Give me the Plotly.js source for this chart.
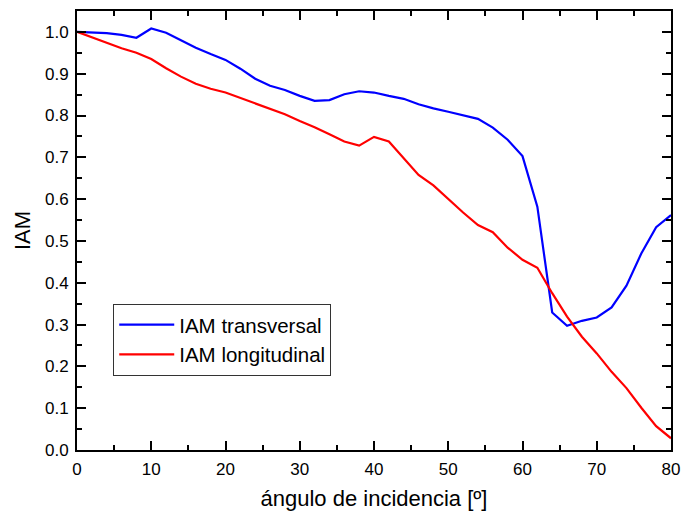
<!DOCTYPE html>
<html><head><meta charset="utf-8">
<script src="https://cdn.plot.ly/plotly-3.0.1.min.js"></script>
<style>html,body{margin:0;padding:0;background:#fff}</style>
</head><body><div id="chart" style="width:684px;height:514px"></div>
<script>
const angles = [0,2,4,6,8,10,12,14,16,18,20,22,24,26,28,30,32,34,36,38,40,42,44,46,48,50,52,54,56,58,60,62,64,66,68,70,72,74,76,78,80];
const iamTransversal = [1.0,0.999,0.997,0.993,0.986,1.008,0.998,0.980,0.962,0.947,0.933,0.912,0.888,0.871,0.861,0.847,0.835,0.837,0.851,0.858,0.855,0.847,0.840,0.827,0.817,0.809,0.801,0.792,0.771,0.742,0.703,0.582,0.329,0.297,0.309,0.317,0.341,0.393,0.470,0.533,0.562];
const iamLongitudinal = [1.0,0.987,0.974,0.961,0.950,0.935,0.913,0.893,0.876,0.864,0.855,0.842,0.828,0.815,0.803,0.787,0.772,0.755,0.738,0.728,0.749,0.738,0.697,0.658,0.633,0.600,0.568,0.538,0.521,0.484,0.455,0.436,0.375,0.319,0.271,0.231,0.187,0.148,0.101,0.057,0.028];
const seriesNames = ["IAM transversal","IAM longitudinal"];

const traces = [
  {x: angles, y: iamTransversal, name: seriesNames[0], mode: 'lines', line: {color: '#0000ff', width: 2.2}},
  {x: angles, y: iamLongitudinal, name: seriesNames[1], mode: 'lines', line: {color: '#ff0000', width: 2.2}}
];
const axisCommon = {
  showgrid: false, zeroline: false, showline: true, linecolor: '#000', linewidth: 2,
  mirror: 'ticks', ticks: 'inside', ticklen: 9, tickwidth: 2, tickcolor: '#000',
  tickfont: {family: 'Liberation Sans, Arial, sans-serif', size: 17, color: '#000'}
};
const layout = {
  width: 684, height: 514,
  margin: {l: 77, r: 13, t: 11, b: 64},
  paper_bgcolor: '#fff', plot_bgcolor: '#fff',
  font: {family: 'Liberation Sans, Arial, sans-serif', color: '#000'},
  xaxis: Object.assign({}, axisCommon, {
    range: [0, 80], dtick: 10, tick0: 0, ticklabelstandoff: 3,
    minor: {ticks: 'inside', dtick: 5, ticklen: 5, tickwidth: 2, tickcolor: '#000'},
    title: {text: 'ángulo de incidencia [º]', font: {size: 22}, standoff: 12}
  }),
  yaxis: Object.assign({}, axisCommon, {
    range: [0, 1.05], dtick: 0.1, tick0: 0, tickformat: '.1f', ticklabelstandoff: 3,
    minor: {ticks: 'inside', dtick: 0.05, ticklen: 5, tickwidth: 2, tickcolor: '#000'},
    title: {text: 'IAM', font: {size: 22}, standoff: 8}
  }),
  showlegend: true,
  legend: {
    x: 0.061, y: 0.333, xanchor: 'left', yanchor: 'top',
    bgcolor: '#fff', bordercolor: '#333', borderwidth: 1,
    font: {size: 20.5}, itemwidth: 55, tracegroupgap: 0
  }
};
Plotly.newPlot('chart', traces, layout, {displayModeBar: false, staticPlot: true});
</script></body></html>
